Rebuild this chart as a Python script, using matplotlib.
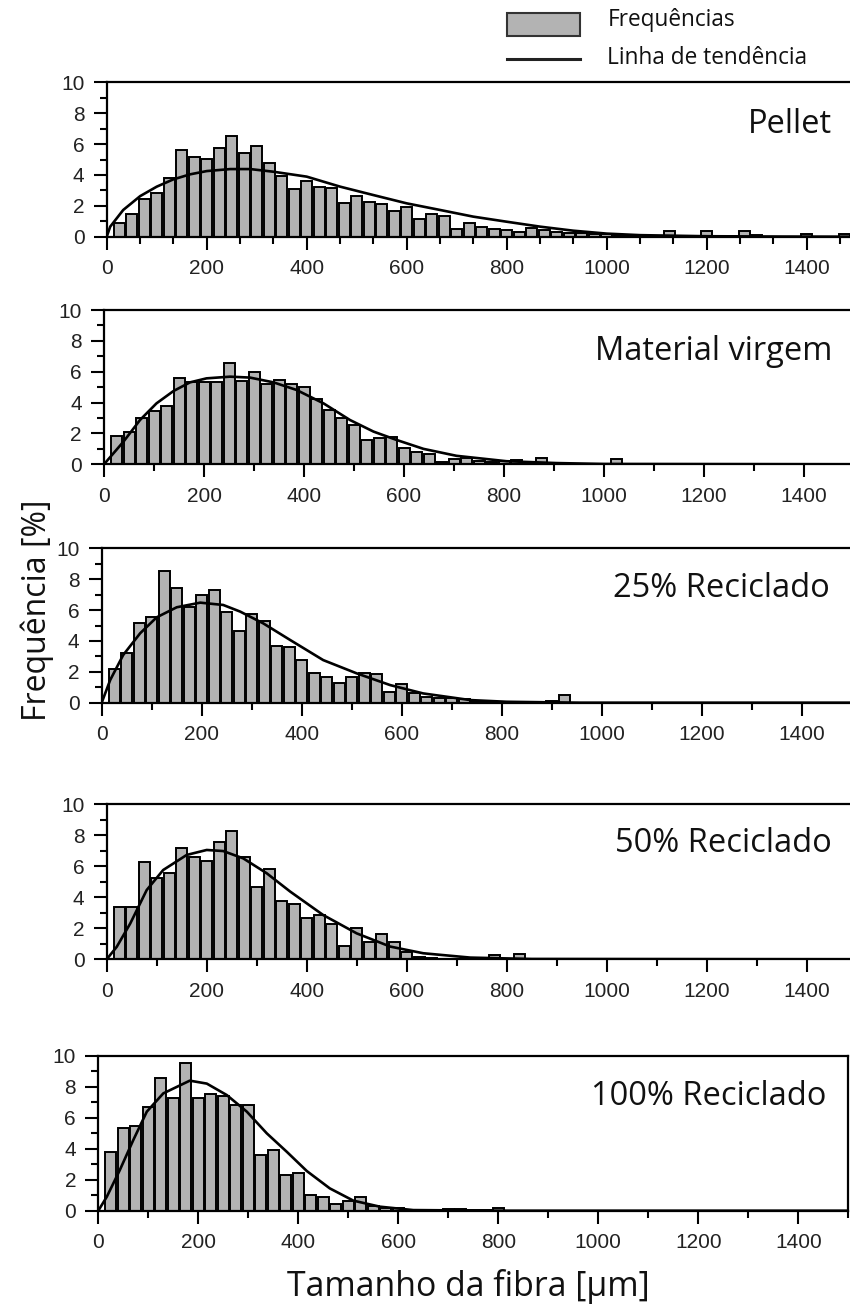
import numpy as np
import matplotlib.pyplot as plt
from matplotlib.patches import Rectangle
from matplotlib.lines import Line2D
from matplotlib.ticker import MultipleLocator

W, H = 850, 1313
plt.rcParams['font.family'] = ['Open Sans', 'DejaVu Sans']

# histogram bin centres, fibre length in um (25 um classes)
bins_um = np.arange(25, 1500, 25)

panel_names = ['Pellet', 'Material virgem', '25% Reciclado', '50% Reciclado', '100% Reciclado']

# frequencies [%] per class, up to the last non-empty class
freq_pellet = [0.86, 1.45, 2.44, 2.8, 3.78, 5.6, 5.14, 5.03, 5.77, 6.54, 5.4, 5.87, 4.79, 3.93,
               3.07, 3.6, 3.24, 3.13, 2.16, 2.63, 2.22, 2.12, 1.68, 1.94, 1.12, 1.47, 1.34, 0.48,
               0.86, 0.6, 0.48, 0.43, 0.3, 0.55, 0.43, 0.32, 0.25, 0.25, 0.2, 0.15, 0.1, 0.1,
               0.05, 0.05, 0.35, 0.05, 0.0, 0.35, 0.05, 0.05, 0.35, 0.1, 0.0, 0.0, 0.0, 0.15,
               0.0, 0.0, 0.2]
freq_virgem = [1.84, 2.12, 2.98, 3.46, 3.78, 5.57, 5.31, 5.35, 5.31, 6.54, 5.4, 5.96, 5.18, 5.46,
               5.18, 4.99, 4.21, 3.52, 2.98, 2.55, 1.58, 1.73, 1.79, 1.04, 0.82, 0.65, 0.17, 0.35,
               0.42, 0.2, 0.15, 0.2, 0.25, 0.1, 0.4, 0.1, 0.05, 0.0, 0.0, 0.0, 0.35]
freq_rec25 = [2.16, 3.2, 5.14, 5.53, 8.55, 7.45, 6.18, 6.98, 7.3, 5.9, 4.67, 5.75, 5.29, 3.67,
              3.63, 2.76, 1.9, 1.64, 1.3, 1.64, 1.9, 1.84, 0.71, 1.21, 0.6, 0.39, 0.32, 0.28,
              0.22, 0.1, 0.05, 0.05, 0.05, 0.05, 0.05, 0.1, 0.5]
freq_rec50 = [3.39, 3.35, 6.29, 5.21, 5.54, 7.19, 6.61, 6.33, 7.58, 8.26, 6.61, 4.64, 5.79, 3.78,
              3.54, 2.64, 2.85, 2.27, 0.86, 2.0, 1.14, 1.61, 1.14, 0.49, 0.17, 0.1, 0.05, 0.05,
              0.05, 0.1, 0.28, 0.05, 0.32]
freq_rec100 = [3.8, 5.31, 5.46, 6.71, 8.54, 7.29, 9.55, 7.29, 7.5, 7.4, 6.82, 6.82, 3.59, 3.91,
               2.3, 2.41, 1.01, 0.9, 0.43, 0.62, 0.86, 0.3, 0.15, 0.15, 0.05, 0.05, 0.05, 0.1,
               0.1, 0.05, 0.05, 0.15]

# trend lines (fitted distribution), sampled points: length [um], frequency [%]
trend_pellet_x = [0, 7, 33, 67, 100, 133, 167, 200, 247, 287, 333, 400, 467, 533, 600, 667,
                  733, 800, 867, 933, 1000, 1067, 1200, 1350, 1500]
trend_pellet_y = [0, 0.65, 1.73, 2.63, 3.24, 3.71, 4.04, 4.25, 4.38, 4.38, 4.21, 3.89, 3.24,
                  2.7, 2.16, 1.73, 1.3, 0.97, 0.65, 0.39, 0.2, 0.1, 0.03, 0.01, 0]
trend_virgem_x = [0, 39, 72, 105, 139, 172, 205, 252, 292, 339, 385, 439, 492, 539, 585, 639,
                  705, 805, 905, 1000, 1500]
trend_virgem_y = [0, 1.47, 2.87, 3.95, 4.75, 5.31, 5.57, 5.68, 5.62, 5.31, 4.82, 3.95, 2.87,
                  2.12, 1.58, 1.0, 0.55, 0.2, 0.08, 0.02, 0]
trend_rec25_x = [0, 17, 43, 77, 110, 150, 197, 243, 277, 323, 377, 443, 510, 577, 643, 737,
                 810, 957, 1500]
trend_rec25_y = [0, 1.47, 3.09, 4.5, 5.53, 6.18, 6.48, 6.33, 5.9, 5.14, 4.06, 2.76, 1.9, 1.14,
                 0.6, 0.17, 0.06, 0, 0]
trend_rec50_x = [0, 20, 47, 80, 113, 160, 200, 233, 273, 320, 367, 433, 500, 567, 633, 727,
                 850, 1500]
trend_rec50_y = [0, 0.8, 2.3, 4.46, 5.75, 6.72, 7.04, 6.97, 6.5, 5.54, 4.36, 2.85, 1.67, 0.82,
                 0.39, 0.11, 0.02, 0]
trend_rec100_x = [0, 17, 43, 70, 97, 130, 183, 217, 257, 297, 337, 377, 417, 463, 510, 563,
                  630, 800, 1500]
trend_rec100_y = [0, 0.9, 2.62, 4.56, 6.39, 7.57, 8.39, 8.2, 7.46, 6.39, 4.99, 3.8, 2.56, 1.44,
                  0.65, 0.26, 0.04, 0, 0]

freqs = [freq_pellet, freq_virgem, freq_rec25, freq_rec50, freq_rec100]
trends = [(trend_pellet_x, trend_pellet_y), (trend_virgem_x, trend_virgem_y),
          (trend_rec25_x, trend_rec25_y), (trend_rec50_x, trend_rec50_y),
          (trend_rec100_x, trend_rec100_y)]

# pixel frame of each panel: x of zero, y of top (10 %), y of zero
frames = [(106.7, 82.3, 236.7), (104.0, 310.0, 464.3), (101.7, 548.3, 702.7),
          (106.7, 804.0, 959.3), (98.3, 1055.7, 1210.7)]
name_pos = [(832, 133), (832, 360), (830, 597), (832, 852), (826, 1105)]

BAR_GREY = '#b3b3b3'
TICK_FONT = dict(family='Liberation Sans', size=15, color='#222222')

fig = plt.figure(figsize=(W / 100, H / 100), dpi=100)

for i, (vals, (tx, ty), (x0, ytop, ybot)) in enumerate(zip(freqs, trends, frames)):
    ax = fig.add_axes([x0 / W, 1 - ybot / H, 750 / W, (ybot - ytop) / H])
    ax.bar(bins_um[:len(vals)], vals, width=22, color=BAR_GREY, edgecolor='black',
           linewidth=1.4, zorder=2)
    ax.plot(tx, ty, color='black', linewidth=1.9, zorder=3, solid_capstyle='round')
    ax.set_xlim(0, 1500)
    ax.set_ylim(0, 10)
    ax.xaxis.set_major_locator(MultipleLocator(200))
    ax.xaxis.set_minor_locator(MultipleLocator(200 / 3 if i == 0 else 100))
    ax.yaxis.set_major_locator(MultipleLocator(2))
    ax.yaxis.set_minor_locator(MultipleLocator(1))
    ax.tick_params(which='major', length=9.5, width=1.5, direction='out', pad=6.5)
    ax.tick_params(which='minor', length=5, width=1.5, direction='out')
    for sp in ax.spines.values():
        sp.set_linewidth(1.6)
    ax.set_xticks(range(0, 1401, 200))
    ax.set_xticklabels([str(v) for v in range(0, 1401, 200)], fontdict=TICK_FONT)
    ax.set_yticks(range(0, 11, 2))
    ax.set_yticklabels([str(v) for v in range(0, 11, 2)], fontdict=TICK_FONT)
    nx, ny = name_pos[i]
    fig.text(nx / W, 1 - ny / H, panel_names[i], ha='right', va='baseline',
             fontsize=23.5, color='#111111')

# legend drawn in figure coordinates
fig.patches.append(Rectangle((507 / W, 1 - 36 / H), 73 / W, 23 / H, transform=fig.transFigure,
                             facecolor=BAR_GREY, edgecolor='#333333', linewidth=1.5))
fig.lines.append(Line2D([507 / W, 580 / W], [1 - 59 / H, 1 - 59 / H], transform=fig.transFigure,
                        color='#222222', linewidth=2.2))
fig.text(608 / W, 1 - 26 / H, 'Frequências', fontsize=16.3, va='baseline', color='#111111')
fig.text(607 / W, 1 - 64 / H, 'Linha de tendência', fontsize=16.3, va='baseline', color='#111111')

fig.text(37 / W, 1 - 610 / H, 'Frequência [%]', rotation=90, ha='center', va='center',
         fontsize=23, color='#111111')
fig.text(468 / W, 1 - 1287 / H, 'Tamanho da fibra [µm]', ha='center', va='center',
         fontsize=24.4, color='#111111')

fig.savefig('out.png', dpi=100)
